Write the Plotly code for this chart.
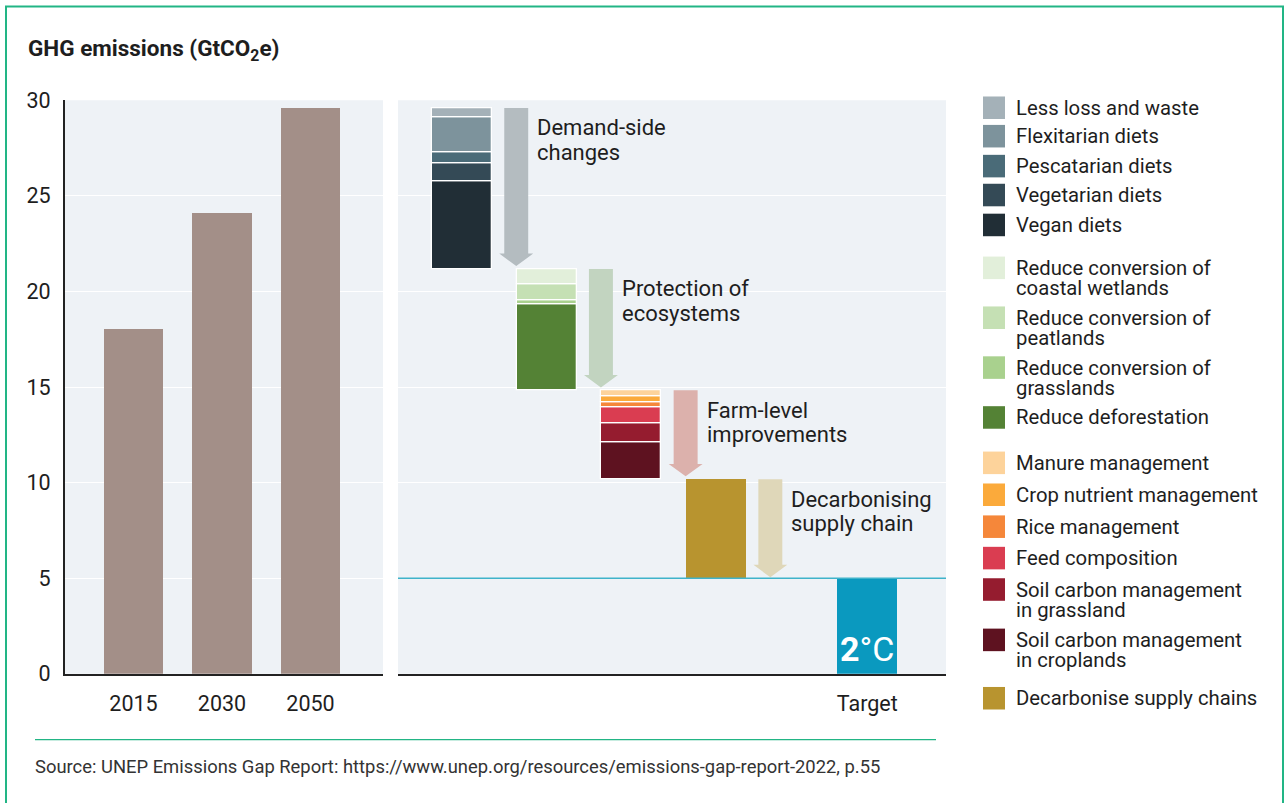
import plotly.graph_objects as go

W, H = 1288, 803

# ---------------- data ----------------
years = ["2015", "2030", "2050"]
emissions = [18.0, 24.1, 29.6]

demand_names = ["Vegan diets", "Vegetarian diets", "Pescatarian diets",
                "Flexitarian diets", "Less loss and waste"]
demand_values = [4.56, 0.99, 0.55, 1.84, 0.48]

eco_names = ["Reduce deforestation", "Reduce conversion of\ngrasslands",
             "Reduce conversion of\npeatlands", "Reduce conversion of\ncoastal wetlands"]
eco_values = [4.48, 0.22, 0.83, 0.82]

farm_names = ["Soil carbon management\nin croplands", "Soil carbon management\nin grassland",
              "Feed composition", "Rice management", "Crop nutrient management",
              "Manure management"]
farm_values = [1.92, 1.02, 0.84, 0.26, 0.31, 0.30]

supply_names = ["Decarbonise supply chains"]
supply_values = [5.18]

target_value = 5.0
target_label = "Target"

stage_titles = [["Demand-side", "changes"], ["Protection of", "ecosystems"],
                ["Farm-level", "improvements"], ["Decarbonising", "supply chain"]]

# ---------------- styles ----------------
demand_colors = ["#212e36", "#344a56", "#4a6b78", "#7d939c", "#a4b1b8"]
eco_colors = ["#548235", "#a9d18e", "#c5e0b4", "#e2efda"]
farm_colors = ["#5e1220", "#951c2f", "#da3d51", "#f5873a", "#fbaa3b", "#fdd39b"]
supply_colors = ["#b8942f"]
arrow_colors = ["#b4bcc0", "#c2d4c0", "#dcb1ac", "#dfd7b9"]
hist_color = "#a38f88"
target_color = "#0a99bf"
line5_color = "#3fb3ca"
green = "#22b585"
bg = "#eef2f6"
txt = "#1e1e1e"
FONT = "Roboto"

# page pixel -> paper fraction (the plot occupies ~780 px of height, centred)
Y_OFF, Y_SPAN = 11.5, 780.0

def px(x):
    return x / W

def py(y):
    return 1 - (y - Y_OFF) / Y_SPAN

fig = go.Figure()

# left panel: historic / projected emissions
fig.add_trace(go.Bar(x=[0, 1, 2], y=emissions, width=0.667,
                     marker=dict(color=hist_color, line=dict(width=0)),
                     xaxis="x", yaxis="y", showlegend=False, name="GHG emissions"))

stages = [(demand_names, demand_values, demand_colors),
          (eco_names, eco_values, eco_colors),
          (farm_names, farm_values, farm_colors),
          (supply_names, supply_values, supply_colors)]

shapes = []
annotations = []
BAR_W = 0.708
ARROW_DX = 0.64
SW, HW, HH = 0.283, 0.40, 0.65

level = emissions[-1]
for i, (names, vals, cols) in enumerate(stages):
    top = level
    bottom = top - sum(vals)
    base = bottom
    for n, v, c in zip(names, vals, cols):
        fig.add_trace(go.Bar(x=[i], y=[v], base=[base], width=BAR_W,
                             marker=dict(color=c, line=dict(color="white", width=1.3 if len(vals) > 1 else 0)),
                             xaxis="x2", yaxis="y2", name=n.replace("\n", " "),
                             showlegend=False))
        base += v
    # arrow
    ax = i + ARROW_DX
    tip = bottom + (0.15 if i < 3 else 0.05)
    ht = tip + HH
    path = (f"M {ax - SW/2},{top} L {ax + SW/2},{top} L {ax + SW/2},{ht} "
            f"L {ax + HW/2},{ht} L {ax},{tip} L {ax - HW/2},{ht} L {ax - SW/2},{ht} Z")
    shapes.append(dict(type="path", path=path, xref="x2", yref="y2",
                       fillcolor=arrow_colors[i], line=dict(width=0), layer="above"))
    for k, line in enumerate(stage_titles[i]):
        annotations.append(dict(x=ax + SW/2, y=top, xref="x2", yref="y2",
                                text=line, showarrow=False, xanchor="left", yanchor="middle",
                                xshift=7, yshift=-20 - 24.5 * k,
                                font=dict(family=FONT, size=22, color=txt)))
    level = bottom

TARGET_X = 4.785
fig.add_trace(go.Bar(x=[TARGET_X], y=[target_value], base=[0], width=BAR_W,
                     marker=dict(color=target_color, line=dict(width=0)),
                     xaxis="x2", yaxis="y2", name=target_label, showlegend=False))
annotations.append(dict(x=TARGET_X, y=0, xref="x2", yref="y2",
                        text="<b>2</b>°C", showarrow=False, xanchor="center", yanchor="bottom",
                        yshift=3, font=dict(family=FONT, size=34, color="white")))

# target line at 5
shapes.append(dict(type="line", xref="x2 domain", yref="y2", x0=0, x1=1,
                   y0=target_value, y1=target_value,
                   line=dict(color=line5_color, width=1.5), layer="above"))

# title
annotations.append(dict(x=px(26), y=py(50), xref="paper", yref="paper",
                        text="<b>GHG emissions (GtCO<sub>2</sub>e)</b>", showarrow=False,
                        xanchor="left", yanchor="middle",
                        font=dict(family=FONT, size=22.5, color=txt)))

# source
annotations.append(dict(x=px(33), y=py(768), xref="paper", yref="paper",
                        text="Source: UNEP Emissions Gap Report: https://www.unep.org/resources/emissions-gap-report-2022, p.55",
                        showarrow=False, xanchor="left", yanchor="middle",
                        font=dict(family=FONT, size=18.4, color="#333333")))
shapes.append(dict(type="line", xref="paper", yref="paper", x0=px(35), x1=px(936),
                   y0=py(741), y1=py(741), line=dict(color=green, width=1.2)))

# outer border
shapes.append(dict(type="rect", xref="paper", yref="paper", x0=px(6), x1=px(1283),
                   y0=py(815), y1=py(6), line=dict(color=green, width=2)))

# custom legend
legend_names = (demand_names[::-1] + eco_names[::-1] + farm_names[::-1] + supply_names)
legend_colors = (demand_colors[::-1] + eco_colors[::-1] + farm_colors[::-1] + supply_colors)
legend_rows_px = [107.5, 136, 166, 195, 225, 268, 318, 368, 418,
                  463.5, 495.5, 527.5, 559, 590.5, 641, 699.5]
for name, col, yc in zip(legend_names, legend_colors, legend_rows_px):
    shapes.append(dict(type="rect", xref="paper", yref="paper",
                       x0=px(983), x1=px(1005), y0=py(yc + 11.3), y1=py(yc - 11.3),
                       fillcolor=col, line=dict(width=0)))
    for k, line in enumerate(name.split("\n")):
        annotations.append(dict(x=px(1014), y=py(yc + 20.5 * k), xref="paper", yref="paper",
                                text=line, showarrow=False, xanchor="left", yanchor="middle",
                                font=dict(family=FONT, size=20.3, color=txt)))

# axes
y_dom = [py(675), py(100)]
tickfont = dict(family=FONT, size=21.5, color=txt)
fig.update_layout(
    width=W, height=H, margin=dict(l=0, r=0, t=0, b=0),
    paper_bgcolor="white", plot_bgcolor=bg, barmode="overlay", bargap=0,
    font=dict(family=FONT, color=txt),
    xaxis=dict(domain=[px(65), px(383)], range=[-0.774, 2.819], tickvals=[0, 1, 2],
               ticktext=years, showline=True, linecolor="#222222", linewidth=2,
               ticks="outside", ticklen=9, tickcolor="rgba(0,0,0,0)", tickfont=tickfont,
               showgrid=False, zeroline=False, fixedrange=True),
    yaxis=dict(domain=y_dom, range=[0, 30], tickvals=[0, 5, 10, 15, 20, 25, 30],
               showline=True, linecolor="#222222", linewidth=2, ticks="outside",
               ticklen=8, tickcolor="rgba(0,0,0,0)", tickfont=tickfont,
               showgrid=True, gridcolor="white", gridwidth=1, zeroline=False),
    xaxis2=dict(domain=[px(398), px(946)], range=[-0.756, 5.714], anchor="y2",
                tickvals=[TARGET_X], ticktext=[target_label], showline=True,
                linecolor="#222222", linewidth=2, ticks="outside", ticklen=9,
                tickcolor="rgba(0,0,0,0)", tickfont=tickfont, showgrid=False, zeroline=False),
    yaxis2=dict(domain=y_dom, range=[0, 30], anchor="x2", tickvals=[0, 5, 10, 15, 20, 25, 30],
                showticklabels=False, showline=False, showgrid=True, gridcolor="white",
                gridwidth=1, zeroline=False),
    shapes=shapes, annotations=annotations,
)

fig.write_html("out.html")
